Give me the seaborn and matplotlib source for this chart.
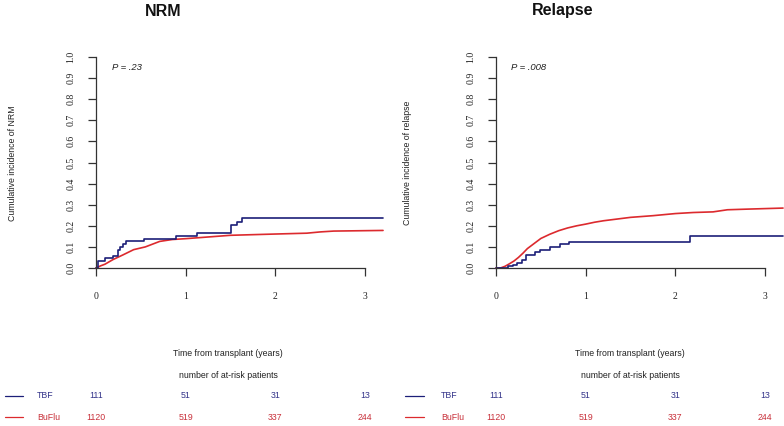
import numpy as np
import pandas as pd
import seaborn as sns
import matplotlib.pyplot as plt
import matplotlib.transforms as mtransforms

# NRM panel
nrm_tbf_t = [0, 0.026, 0.10, 0.19, 0.24, 0.27, 0.30, 0.34, 0.54, 0.89, 1.13, 1.51, 1.57, 1.63, 3.2]
nrm_tbf_v = [0, 0.031, 0.047, 0.058, 0.087, 0.100, 0.113, 0.126, 0.139, 0.153, 0.165, 0.203, 0.220, 0.236, 0.236]
nrm_bu_t = [0, 0.05, 0.10, 0.19, 0.30, 0.42, 0.55, 0.71, 0.85, 1.0, 1.25, 1.5, 2.0, 2.35, 2.5, 2.65, 3.2]
nrm_bu_v = [0, 0.010, 0.018, 0.040, 0.062, 0.087, 0.100, 0.126, 0.135, 0.139, 0.147, 0.155, 0.161, 0.165, 0.171, 0.175, 0.178]

# Relapse panel
rel_tbf_t = [0, 0.13, 0.19, 0.23, 0.29, 0.34, 0.435, 0.49, 0.60, 0.71, 0.81, 2.16, 3.2]
rel_tbf_v = [0, 0.008, 0.014, 0.025, 0.038, 0.062, 0.074, 0.085, 0.098, 0.112, 0.125, 0.152, 0.152]
rel_bu_t = [0, 0.05, 0.10, 0.15, 0.20, 0.25, 0.30, 0.35, 0.40, 0.45, 0.50, 0.60, 0.70, 0.80, 0.90,
            1.0, 1.1, 1.2, 1.35, 1.5, 1.75, 2.0, 2.2, 2.42, 2.5, 2.58, 2.8, 3.2]
rel_bu_v = [0, 0, 0.008, 0.020, 0.033, 0.050, 0.070, 0.092, 0.108, 0.124, 0.140, 0.160, 0.177, 0.190, 0.200,
            0.208, 0.217, 0.224, 0.232, 0.240, 0.248, 0.258, 0.263, 0.266, 0.271, 0.276, 0.279, 0.284]

panels = ["NRM", "Relapse"]
ylabels = ["Cumulative incidence of NRM", "Cumulative incidence of relapse"]
pvalues = ["P = .23", "P = .008"]
groups = ["TBF", "BuFlu"]
risk_times = [0, 1, 2, 3]
risk_tbf = [111, 51, 31, 13]
risk_bu = [1120, 519, 337, 244]

blue = "#1c1f78"
red = "#dc2a2e"
blue_txt = "#34348a"
red_txt = "#c8303a"

sns.set_style("white")
plt.rcParams['font.family'] = ['Liberation Sans', 'DejaVu Sans']

W, H = 784, 426
fig = plt.figure(figsize=(W / 100, H / 100), dpi=100)

curves = [
    (nrm_tbf_t, nrm_tbf_v, nrm_bu_t, nrm_bu_v),
    (rel_tbf_t, rel_tbf_v, rel_bu_t, rel_bu_v),
]
ax_left_px = [96, 496]
title_x_px = [163, 563]
ylabel_x_px = [13, 407]
pval_x_px = [112, 511]
bottom_center_px = [228, 630]
legline_px = [(5, 23), (405, 424)]
leglabel_px = [37, 441]
px_per_year = 89.7

for i in range(2):
    x0 = ax_left_px[i]
    ax = fig.add_axes([x0 / W, (H - 268) / H, 3.2 * px_per_year / W, 211 / H])
    tbf_t, tbf_v, bu_t, bu_v = curves[i]
    df_tbf = pd.DataFrame({"t": tbf_t, "v": tbf_v})
    df_bu = pd.DataFrame({"t": bu_t, "v": bu_v})
    sns.lineplot(data=df_bu, x="t", y="v", ax=ax, color=red, linewidth=1.2,
                 estimator=None, sort=False, clip_on=False)
    sns.lineplot(data=df_tbf, x="t", y="v", ax=ax, color=blue, linewidth=1.2,
                 estimator=None, sort=False, drawstyle="steps-post", clip_on=False)

    ax.set_xlim(0, 3.2)
    ax.set_ylim(0, 1.0)
    ax.set_xlabel("")
    ax.set_ylabel("")
    for s in ["top", "right"]:
        ax.spines[s].set_visible(False)
    for s in ["left", "bottom"]:
        ax.spines[s].set_color("#333333")
        ax.spines[s].set_linewidth(0.9)
    ax.spines["bottom"].set_bounds(0, 3)
    ax.set_xticks(risk_times)
    ax.set_yticks(np.round(np.arange(0, 1.01, 0.1), 1))
    ax.set_yticklabels([f"{v:.1f}" for v in np.arange(0, 1.01, 0.1)], rotation=90, va="center")
    ax.tick_params(axis="both", direction="out", length=6, width=0.9, color="#333333",
                   labelcolor="#222222", labelsize=7, left=True, bottom=True)
    ax.tick_params(axis="x", pad=11)
    ax.tick_params(axis="y", pad=9)
    for lab in ax.get_xticklabels() + ax.get_yticklabels():
        lab.set_fontfamily("Liberation Serif")

    fig.text(title_x_px[i] / W, 1 - 11 / H, panels[i], ha="center", va="center",
             fontsize=11.5, fontweight="bold", color="#111111")
    fig.text(ylabel_x_px[i] / W, 1 - 163 / H, ylabels[i], rotation=90, ha="center",
             va="center", fontsize=6.3, color="#222222")
    fig.text(pval_x_px[i] / W, 1 - 67 / H, pvalues[i], ha="left", va="center",
             fontsize=6.8, style="italic", color="#222222")
    fig.text(bottom_center_px[i] / W, 1 - 353 / H, "Time from transplant (years)",
             ha="center", va="center", fontsize=6.3, color="#222222")
    fig.text(bottom_center_px[i] / W, 1 - 375 / H, "number of at-risk patients",
             ha="center", va="center", fontsize=6.3, color="#222222")

    trans = mtransforms.blended_transform_factory(ax.transData, fig.transFigure)
    rows = [(risk_tbf, 396, blue, blue_txt), (risk_bu, 417, red, red_txt)]
    for (vals, ypx, lc, tc), name in zip(rows, groups):
        yf = 1 - ypx / H
        fig.add_artist(plt.Line2D([legline_px[i][0] / W, legline_px[i][1] / W], [yf, yf],
                                  color=lc, linewidth=0.9, transform=fig.transFigure))
        fig.text(leglabel_px[i] / W, yf, name, ha="left", va="center", fontsize=6.3, color=tc)
        for t, n in zip(risk_times, vals):
            ax.text(t, yf, str(n), transform=trans, ha="center", va="center",
                    fontsize=6.3, color=tc)

fig.savefig("out.png", dpi=100)
